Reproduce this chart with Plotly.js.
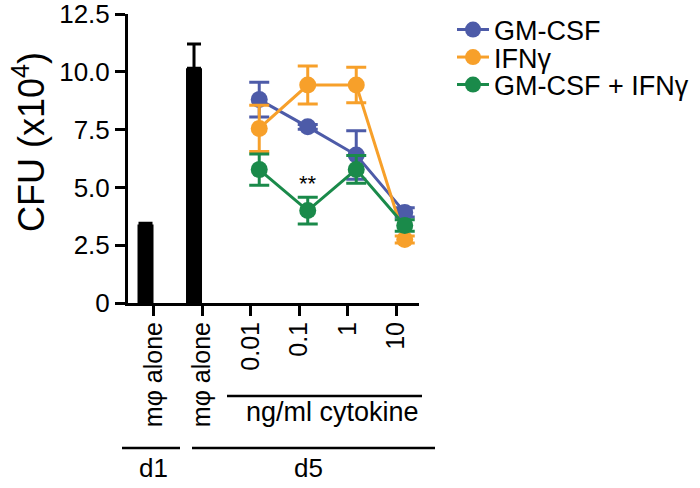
<!DOCTYPE html>
<html>
<head>
<meta charset="utf-8">
<script src="https://cdn.plot.ly/plotly-3.0.1.min.js"></script>
<style>html,body{margin:0;padding:0;background:#fff;}#chart{width:700px;height:488px;}</style>
</head>
<body>
<div id="chart"></div>
<script>
// ---- data ----
const xTickLabels = ['mφ alone', 'mφ alone', '0.01', '0.1', '1', '10'];
const barLabels = ['mφ alone d1', 'mφ alone d5'];
const barValues = [3.4, 10.15];
const barErrUp = [0.05, 1.05];

const doses = ['0.01', '0.1', '1', '10'];
const gmcsf = [8.8, 7.62, 6.4, 3.92];
const gmcsfErr = [0.75, 0.1, 1.05, 0.2];
const ifng = [7.55, 9.43, 9.43, 2.75];
const ifngErr = [1.0, 0.82, 0.77, 0.15];
const combo = [5.77, 4.0, 5.78, 3.35];
const comboErr = [0.68, 0.58, 0.6, 0.25];

const yTickVals = [0, 2.5, 5, 7.5, 10, 12.5];
const yTickText = ['0', '2.5', '5.0', '7.5', '10.0', '12.5'];

// ---- layout helpers ----
const FONT = 'Liberation Sans, Arial, Helvetica, sans-serif';
const L = 128, R = 419, T = 14, B = 303;
const px = v => (v - L) / (R - L);
const py = v => (B - v) / (B - T);
const pointShift = 0.18;
const doseX = doses.map((d, i) => i + 2 + pointShift);
const barX = barLabels.map((d, i) => i);

function series(name, ys, errs, color, legendId) {
  return {
    type: 'scatter', mode: 'lines+markers', name: name, legend: legendId,
    x: doseX, y: ys,
    line: {color: color, width: 3},
    marker: {color: color, size: 17},
    error_y: {type: 'data', array: errs, visible: true, color: color, thickness: 3, width: 10},
    cliponaxis: false
  };
}

const traces = [
  {
    type: 'bar', x: barX, y: barValues, width: 0.33, offset: -0.33,
    marker: {color: '#000', line: {width: 0}},
    error_y: {type: 'data', array: barErrUp, arrayminus: [0, 0], symmetric: false, visible: true, color: '#000', thickness: 3, width: 7},
    showlegend: false, hoverinfo: 'skip'
  },
  series('GM-CSF', gmcsf, gmcsfErr, '#4D5BA8', 'legend'),
  series('IFNγ', ifng, ifngErr, '#F7A02A', 'legend2'),
  series('GM-CSF + IFNγ', combo, comboErr, '#1A8A4A', 'legend3')
];

function legendAt(rowY) {
  return {
    x: px(452), y: py(rowY), xanchor: 'left', yanchor: 'middle',
    font: {family: FONT, size: 27, color: '#000'},
    bgcolor: 'rgba(0,0,0,0)', borderwidth: 0, itemwidth: 32
  };
}

const lineStyle = {color: '#000', width: 2.5};
const layout = {
  width: 700, height: 488,
  margin: {l: L, r: 700 - R, t: T, b: 488 - B, pad: 0, autoexpand: false},
  paper_bgcolor: '#fff', plot_bgcolor: '#fff',
  font: {family: FONT, color: '#000'},
  showlegend: true,
  legend: legendAt(30),
  legend2: legendAt(57.5),
  legend3: legendAt(85),
  xaxis: {
    range: [-0.526, 5.474], showgrid: false, zeroline: false,
    showline: true, linecolor: '#000', linewidth: 3,
    ticks: 'outside', ticklen: 10, tickwidth: 3, tickcolor: '#000',
    tickvals: xTickLabels.map((d, i) => i), ticktext: xTickLabels,
    tickangle: -90, tickfont: {family: FONT, size: 25, color: '#000'},
    ticklabelstandoff: -4, automargin: false, ticklabeloverflow: 'allow',
    fixedrange: true
  },
  yaxis: {
    range: [0, 12.502], showgrid: false, zeroline: false,
    showline: true, linecolor: '#000', linewidth: 3,
    ticks: 'outside', ticklen: 10, tickwidth: 3, tickcolor: '#000',
    tickvals: yTickVals, ticktext: yTickText,
    tickfont: {family: FONT, size: 26, color: '#000'},
    automargin: false, ticklabeloverflow: 'allow',
    fixedrange: true
  },
  shapes: [
    {type: 'line', xref: 'paper', yref: 'paper', x0: px(227), x1: px(422), y0: py(396), y1: py(396), line: lineStyle},
    {type: 'line', xref: 'paper', yref: 'paper', x0: px(122), x1: px(180), y0: py(448), y1: py(448), line: lineStyle},
    {type: 'line', xref: 'paper', yref: 'paper', x0: px(192), x1: px(435), y0: py(448), y1: py(448), line: lineStyle}
  ],
  annotations: [
    {text: 'CFU (x10<sup>4</sup>)', xref: 'paper', yref: 'paper', x: px(29), y: py(142), xanchor: 'center', yanchor: 'middle',
     textangle: -90, showarrow: false, font: {family: FONT, size: 36, color: '#000'}},
    {text: 'ng/ml cytokine', xref: 'paper', yref: 'paper', x: px(332), y: py(412), xanchor: 'center', yanchor: 'middle',
     showarrow: false, font: {family: FONT, size: 27, color: '#000'}},
    {text: 'd1', xref: 'paper', yref: 'paper', x: px(153), y: py(468), xanchor: 'center', yanchor: 'middle',
     showarrow: false, font: {family: FONT, size: 26, color: '#000'}},
    {text: 'd5', xref: 'paper', yref: 'paper', x: px(308), y: py(468), xanchor: 'center', yanchor: 'middle',
     showarrow: false, font: {family: FONT, size: 26, color: '#000'}},
    {text: '**', xref: 'x', yref: 'y', x: doseX[1], y: 5.15, xanchor: 'center', yanchor: 'middle',
     showarrow: false, font: {family: FONT, size: 22, color: '#000'}}
  ]
};

Plotly.newPlot('chart', traces, layout, {staticPlot: true, displayModeBar: false});
</script>
</body>
</html>
